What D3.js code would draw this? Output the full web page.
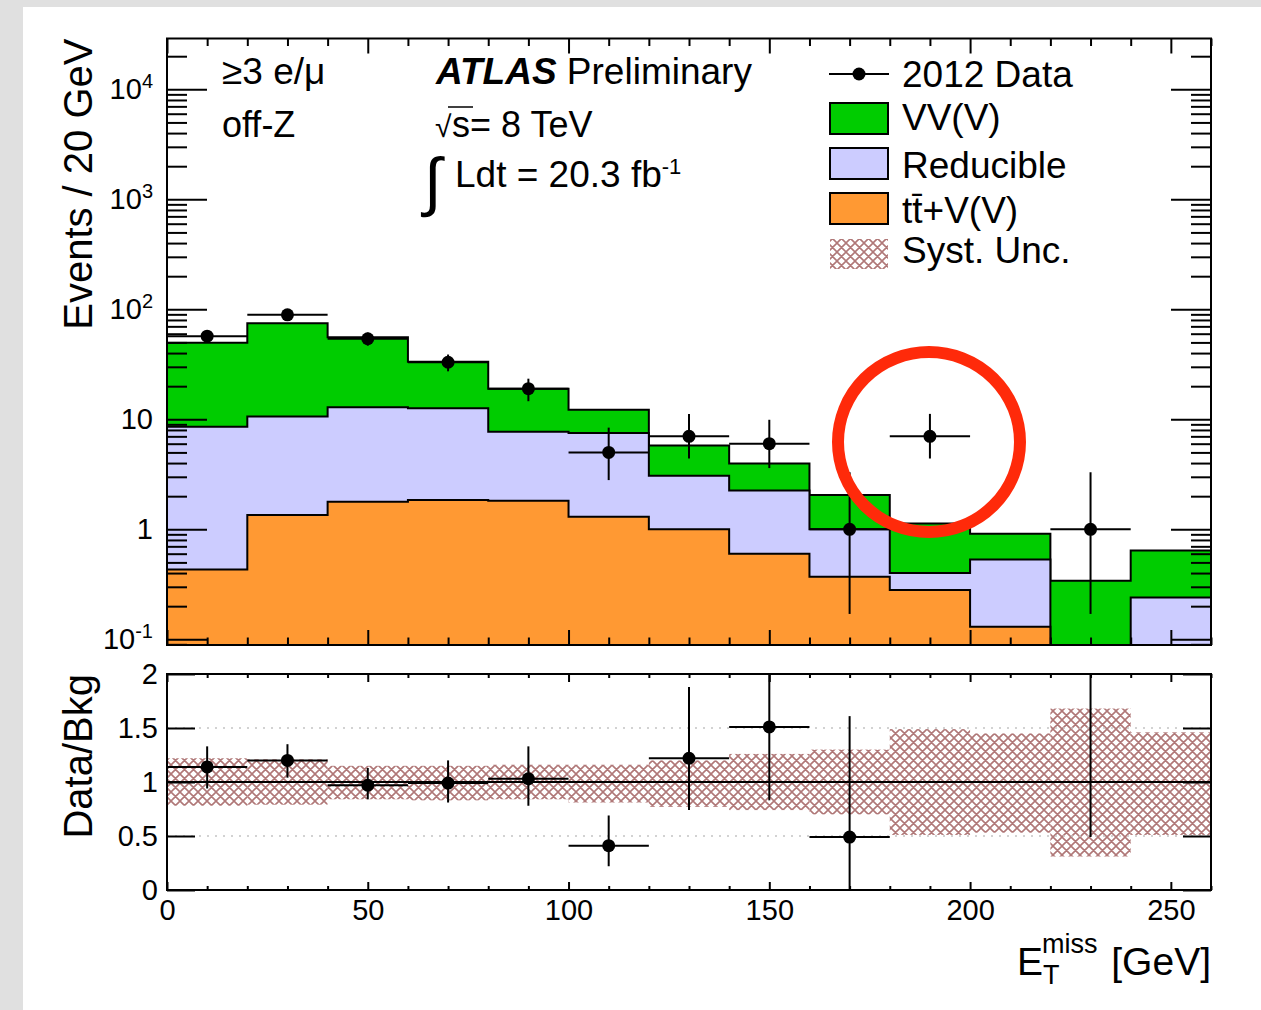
<!DOCTYPE html>
<meta charset="utf-8">
<script src="https://d3js.org/d3.v7.min.js"></script>
<style>
  body { margin: 0; background: #e0e0e0; overflow: hidden; }
  svg { display: block; }
  text { font-family: "Liberation Sans", Arial, Helvetica, sans-serif; fill: #000; }
</style>
<body>
<div id="chart"></div>
<script>
// 20 GeV bins from 0 to 260 GeV
var binEdges = [0, 20, 40, 60, 80, 100, 120, 140, 160, 180, 200, 220, 240, 260];

// expected events per bin (stacked: ttV at bottom, then reducible, then VV(V))
var ttV       = [0.43, 1.35, 1.78, 1.85, 1.82, 1.30, 1.00, 0.60, 0.37, 0.28, 0.13, 0, 0];
var reducible = [8.14, 9.25, 11.1, 10.75, 5.9, 6.2, 2.07, 1.65, 0.63, 0.12, 0.40, 0, 0.24];
var vvv       = [41.1, 64.0, 42.7, 20.8, 11.2, 4.7, 2.72, 1.71, 1.05, 0.73, 0.38, 0.34, 0.40];

// 2012 data
var dataCounts  = [57, 89, 54, 33, 19, 5, 7, 6, 1, 7, 0, 1, 0];
var dataErrUp   = [7.6, 9.4, 7.4, 5.8, 4.4, 3.4, 4.2, 3.9, 2.3, 4.2, 0, 2.3, 0];
var dataErrDown = [7.5, 9.4, 7.3, 5.7, 4.4, 2.2, 2.6, 2.4, 0.83, 2.6, 0, 0.83, 0];

// data / background ratio panel
var ratio   = [1.14, 1.20, 0.97, 0.99, 1.03, 0.41, 1.22, 1.51, 0.49, 6.2, null, 2.95, null];
var ratioLo = [0.94, 1.04, 0.84, 0.81, 0.78, 0.22, 0.74, 0.83, 0.0, 3.9, null, 0.49, null];
var ratioHi = [1.33, 1.35, 1.13, 1.20, 1.33, 0.69, 1.88, 2.5, 1.61, 9.9, null, 9.7, null];
var systLo  = [0.78, 0.79, 0.84, 0.83, 0.84, 0.81, 0.77, 0.74, 0.70, 0.51, 0.53, 0.31, 0.51];
var systHi  = [1.22, 1.21, 1.15, 1.15, 1.16, 1.16, 1.20, 1.26, 1.30, 1.49, 1.45, 1.68, 1.46];

// axis ticks
var xMajor = [0, 50, 100, 150, 200, 250];
var logMajor = [0.1, 1, 10, 100, 1000, 10000];
var ratioTicks = [0, 0.5, 1, 1.5, 2];

var colGreen = "#00cc00", colBlue = "#ccccff", colOrange = "#ff9933", colHatch = "#b07878";

var W = 1261, H = 1010;
var L = 167, R = 1211;
var topT = 38.5, topB = 645, botT = 674, botB = 890;

var svg = d3.select("#chart").append("svg").attr("width", W).attr("height", H);
svg.append("rect").attr("x", 23).attr("y", 7).attr("width", W - 23).attr("height", H - 7).attr("fill", "#fff");

var defs = svg.append("defs");
var pat = defs.append("pattern").attr("id", "hatch").attr("patternUnits", "userSpaceOnUse")
  .attr("width", 9).attr("height", 9);
pat.append("path").attr("d", "M0,0L9,9M9,0L0,9M-1,8L1,10M8,-1L10,1")
  .attr("stroke", colHatch).attr("stroke-width", 1.6);
defs.append("clipPath").attr("id", "clipTop").append("rect")
  .attr("x", L).attr("y", topT).attr("width", R - L).attr("height", topB - topT);
defs.append("clipPath").attr("id", "clipBot").append("rect")
  .attr("x", L).attr("y", botT).attr("width", R - L).attr("height", botB - botT);

var x = d3.scaleLinear().domain([0, 260]).range([L, R]);
var y = d3.scaleLog().domain([Math.pow(10, -1.052), Math.pow(10, 4.462)]).range([topB, topT]).clamp(true);
var yr = d3.scaleLinear().domain([0, 2]).range([botB, botT]);

// ---------- top panel: stacked histograms ----------
var stack = ttV.map(function(t, i) {
  return { tt: t, red: t + reducible[i], tot: t + reducible[i] + vvv[i] };
});
function steps(key) {
  var pts = [];
  stack.forEach(function(s, i) {
    pts.push([binEdges[i], s[key]]);
    pts.push([binEdges[i + 1], s[key]]);
  });
  return pts;
}
var yv = function(v) { return y(Math.max(v, 1e-4)); };
var area = d3.area().x(function(d) { return x(d[0]); }).y0(topB).y1(function(d) { return yv(d[1]); });
var line = d3.line().x(function(d) { return x(d[0]); }).y(function(d) { return yv(d[1]); });

var gTop = svg.append("g").attr("clip-path", "url(#clipTop)");
[["tot", colGreen], ["red", colBlue], ["tt", colOrange]].forEach(function(layer) {
  var pts = steps(layer[0]);
  gTop.append("path").datum(pts).attr("d", area).attr("fill", layer[1]);
  gTop.append("path").datum(pts).attr("d", line).attr("fill", "none").attr("stroke", "#000").attr("stroke-width", 2);
});

// data points
var pts = dataCounts.map(function(n, i) {
  return { x0: binEdges[i], x1: binEdges[i + 1], xc: (binEdges[i] + binEdges[i + 1]) / 2, n: n, up: dataErrUp[i], dn: dataErrDown[i] };
}).filter(function(d) { return d.n > 0; });
var gData = gTop.append("g");
gData.selectAll(".ev").data(pts).enter().append("line")
  .attr("x1", function(d) { return x(d.xc); }).attr("x2", function(d) { return x(d.xc); })
  .attr("y1", function(d) { return yv(d.n - d.dn); }).attr("y2", function(d) { return yv(d.n + d.up); })
  .attr("stroke", "#000").attr("stroke-width", 2);
gData.selectAll(".eh").data(pts).enter().append("line")
  .attr("x1", function(d) { return x(d.x0); }).attr("x2", function(d) { return x(d.x1); })
  .attr("y1", function(d) { return yv(d.n); }).attr("y2", function(d) { return yv(d.n); })
  .attr("stroke", "#000").attr("stroke-width", 2);
gData.selectAll("circle").data(pts).enter().append("circle")
  .attr("cx", function(d) { return x(d.xc); }).attr("cy", function(d) { return yv(d.n); })
  .attr("r", 6.5).attr("fill", "#000");

// ---------- bottom panel: ratio ----------
var gBot = svg.append("g").attr("clip-path", "url(#clipBot)");
systLo.forEach(function(lo, i) {
  gBot.append("rect").attr("x", x(binEdges[i])).attr("width", x(binEdges[i + 1]) - x(binEdges[i]))
    .attr("y", yr(systHi[i])).attr("height", yr(lo) - yr(systHi[i])).attr("fill", "url(#hatch)");
});
[0.5, 1.5].forEach(function(v) {
  gBot.append("line").attr("x1", L).attr("x2", R).attr("y1", yr(v)).attr("y2", yr(v))
    .attr("stroke", "#c4c4c4").attr("stroke-width", 1.5).attr("stroke-dasharray", "2,6");
});
gBot.append("line").attr("x1", L).attr("x2", R).attr("y1", yr(1)).attr("y2", yr(1))
  .attr("stroke", "#000").attr("stroke-width", 2);

var rpts = ratio.map(function(r, i) {
  return { x0: binEdges[i], x1: binEdges[i + 1], xc: (binEdges[i] + binEdges[i + 1]) / 2, r: r, lo: ratioLo[i], hi: ratioHi[i] };
}).filter(function(d) { return d.r !== null; });
gBot.selectAll(".rv").data(rpts).enter().append("line")
  .attr("x1", function(d) { return x(d.xc); }).attr("x2", function(d) { return x(d.xc); })
  .attr("y1", function(d) { return yr(d.lo); }).attr("y2", function(d) { return yr(d.hi); })
  .attr("stroke", "#000").attr("stroke-width", 2);
gBot.selectAll(".rh").data(rpts).enter().append("line")
  .attr("x1", function(d) { return x(d.x0); }).attr("x2", function(d) { return x(d.x1); })
  .attr("y1", function(d) { return yr(d.r); }).attr("y2", function(d) { return yr(d.r); })
  .attr("stroke", "#000").attr("stroke-width", 2);
gBot.selectAll("circle").data(rpts).enter().append("circle")
  .attr("cx", function(d) { return x(d.xc); }).attr("cy", function(d) { return yr(d.r); })
  .attr("r", 6.5).attr("fill", "#000");

// ---------- axes (ROOT style: ticks inside on all four sides) ----------
var xMinor = d3.range(0, 261, 10).filter(function(v) { return v % 50 !== 0; });
var logMinor = [];
for (var k = -2; k <= 4; k++) for (var m = 2; m <= 9; m++) {
  var v = m * Math.pow(10, k);
  if (v > y.domain()[0] && v < y.domain()[1]) logMinor.push(v);
}

function styleAxis(g, size) {
  g.select(".domain").remove();
  g.attr("font-size", size).attr("font-family", null);
  g.selectAll("line").attr("stroke-width", 2);
  return g;
}

// top panel
styleAxis(svg.append("g").attr("transform", "translate(" + L + ",0)")
  .call(d3.axisLeft(y).tickValues(logMinor).tickSize(-20).tickFormat("")), 29);
var yLab = styleAxis(svg.append("g").attr("transform", "translate(" + L + ",0)")
  .call(d3.axisLeft(y).tickValues(logMajor).tickSize(-40).tickPadding(14).tickFormat("")), 29);
yLab.selectAll("text").each(function(d) {
  var t = d3.select(this);
  var e = Math.round(Math.log10(d));
  if (e === 0) t.text("1");
  else if (e === 1) t.text("10");
  else {
    t.append("tspan").text("10");
    t.append("tspan").attr("dy", "-0.55em").attr("font-size", 20).text(e);
  }
});
styleAxis(svg.append("g").attr("transform", "translate(" + R + ",0)")
  .call(d3.axisRight(y).tickValues(logMinor).tickSize(-20).tickFormat("")), 29);
styleAxis(svg.append("g").attr("transform", "translate(" + R + ",0)")
  .call(d3.axisRight(y).tickValues(logMajor).tickSize(-40).tickFormat("")), 29);
[[topB, d3.axisBottom], [topT, d3.axisTop]].forEach(function(a) {
  styleAxis(svg.append("g").attr("transform", "translate(0," + a[0] + ")")
    .call(a[1](x).tickValues(xMinor).tickSize(-7.5).tickFormat("")), 29);
  styleAxis(svg.append("g").attr("transform", "translate(0," + a[0] + ")")
    .call(a[1](x).tickValues(xMajor).tickSize(-15).tickFormat("")), 29);
});

// bottom panel
styleAxis(svg.append("g").attr("transform", "translate(" + L + ",0)")
  .call(d3.axisLeft(yr).tickValues(ratioTicks).tickSize(-28).tickPadding(9).tickFormat(d3.format("~g"))), 29);
styleAxis(svg.append("g").attr("transform", "translate(" + R + ",0)")
  .call(d3.axisRight(yr).tickValues(ratioTicks).tickSize(-28).tickFormat("")), 29);
styleAxis(svg.append("g").attr("transform", "translate(0," + botB + ")")
  .call(d3.axisBottom(x).tickValues(xMinor).tickSize(-4).tickFormat("")), 29);
styleAxis(svg.append("g").attr("transform", "translate(0," + botB + ")")
  .call(d3.axisBottom(x).tickValues(xMajor).tickSize(-8).tickPadding(9.5).tickFormat(d3.format("d"))), 29);
styleAxis(svg.append("g").attr("transform", "translate(0," + botT + ")")
  .call(d3.axisTop(x).tickValues(xMinor).tickSize(-4).tickFormat("")), 29);
styleAxis(svg.append("g").attr("transform", "translate(0," + botT + ")")
  .call(d3.axisTop(x).tickValues(xMajor).tickSize(-8).tickFormat("")), 29);

// frames
svg.append("rect").attr("x", L).attr("y", topT).attr("width", R - L).attr("height", topB - topT)
  .attr("fill", "none").attr("stroke", "#000").attr("stroke-width", 2);
svg.append("rect").attr("x", L).attr("y", botT).attr("width", R - L).attr("height", botB - botT)
  .attr("fill", "none").attr("stroke", "#000").attr("stroke-width", 2);

// axis titles
svg.append("text").attr("transform", "translate(92," + topT + ") rotate(-90)")
  .attr("text-anchor", "end").attr("font-size", 40).text("Events / 20 GeV");
svg.append("text").attr("transform", "translate(92," + botT + ") rotate(-90)")
  .attr("text-anchor", "end").attr("font-size", 40).text("Data/Bkg");
svg.append("text").attr("x", R).attr("y", 975).attr("text-anchor", "end").attr("font-size", 39).text("[GeV]");
svg.append("text").attr("x", 1017).attr("y", 975).attr("font-size", 39).text("E");
svg.append("text").attr("x", 1043).attr("y", 984).attr("font-size", 27).text("T");
svg.append("text").attr("x", 1042).attr("y", 953).attr("font-size", 27).text("miss");

// labels in the plot
svg.append("text").attr("x", 222).attr("y", 84).attr("font-size", 37).text("\u22653 e/\u03bc");
svg.append("text").attr("x", 222).attr("y", 137).attr("font-size", 36).text("off-Z");
var atl = svg.append("text").attr("x", 436).attr("y", 84).attr("font-size", 37);
atl.append("tspan").attr("font-weight", "bold").attr("font-style", "italic").text("ATLAS");
atl.append("tspan").text(" Preliminary");
svg.append("text").attr("x", 435).attr("y", 137).attr("font-size", 30).text("\u221a");
svg.append("text").attr("x", 452).attr("y", 137).attr("font-size", 36).text("s= 8 TeV");
svg.append("line").attr("x1", 448).attr("x2", 473).attr("y1", 107).attr("y2", 107)
  .attr("stroke", "#000").attr("stroke-width", 1.5);
svg.append("text").attr("x", 424).attr("y", 203).attr("font-size", 64).attr("font-style", "italic")
  .attr("font-family", "DejaVu Serif").text("\u222b");
var lum = svg.append("text").attr("x", 455).attr("y", 187).attr("font-size", 37).text("Ldt = 20.3 fb");
lum.append("tspan").attr("dy", "-0.6em").attr("font-size", 22).text("-1");

// legend
var lg = svg.append("g");
lg.append("line").attr("x1", 829).attr("x2", 889).attr("y1", 74).attr("y2", 74).attr("stroke", "#000").attr("stroke-width", 2);
lg.append("circle").attr("cx", 859).attr("cy", 74).attr("r", 6.5).attr("fill", "#000");
lg.append("text").attr("x", 902).attr("y", 87).attr("font-size", 37).text("2012 Data");
var boxes = [[colGreen, 103, "VV(V)", 130], [colBlue, 148, "Reducible", 178], [colOrange, 193, "t\u0074\u0304+V(V)", 223]];
boxes.forEach(function(b) {
  lg.append("rect").attr("x", 830).attr("y", b[1]).attr("width", 58).attr("height", 31)
    .attr("fill", b[0]).attr("stroke", "#000").attr("stroke-width", 2);
  lg.append("text").attr("x", 902).attr("y", b[3]).attr("font-size", 37).text(b[2]);
});
lg.append("rect").attr("x", 830).attr("y", 239).attr("width", 58).attr("height", 30).attr("fill", "url(#hatch)");
lg.append("text").attr("x", 902).attr("y", 263).attr("font-size", 37).text("Syst. Unc.");

// red circle highlighting the 180-200 GeV bin
svg.append("ellipse").attr("cx", 929).attr("cy", 442).attr("rx", 91).attr("ry", 90)
  .attr("fill", "none").attr("stroke", "#ff2a0a").attr("stroke-width", 12);
</script>
</body>
